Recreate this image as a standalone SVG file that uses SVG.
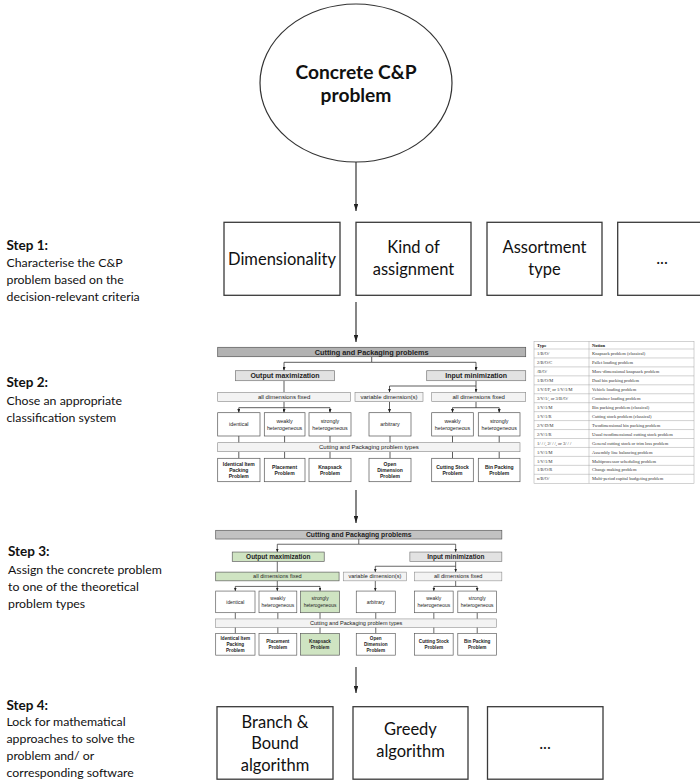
<svg xmlns="http://www.w3.org/2000/svg" width="700" height="781" viewBox="0 0 700 781">
  <style>
    .lbl { font-family: Lato, "Liberation Sans", sans-serif; fill: #111; }
    .big { font-size: 16.5px; text-anchor: middle; }
    .stepT { font-size: 13.5px; font-weight: bold; }
    .stepD { font-size: 12.3px; }
    .bx { fill: #fff; stroke: #3a3a3a; stroke-width: 1.3; }
    .ln { fill: none; stroke: #222; stroke-width: 1.1; }
    .sl { fill: none; stroke: #333; stroke-width: 0.8; }
    .sa { font-family: "Liberation Sans", Arial, sans-serif; text-anchor: middle; fill: #222; }
    .hdr { font-size: 7.3px; font-weight: bold; }
    .grp { font-size: 7px; font-weight: bold; }
    .dim { font-size: 6px; }
    .cat { font-size: 5.3px; }
    .typ { font-size: 5px; font-weight: bold; }
    .sbox { fill: #fff; stroke: #555; stroke-width: 0.7; }
    .top { fill: #b2b2b2; stroke: #555; stroke-width: 0.7; }
    .top2 { fill: #c2c2c2; stroke: #555; stroke-width: 0.7; }
    .mid { fill: #e2e2e2; stroke: #777; stroke-width: 0.7; }
    .pale { fill: #f3f3f3; stroke: #888; stroke-width: 0.6; }
    .hl { fill: #cfe4c2; stroke: #555; stroke-width: 0.7; }
    .tb { font-family: "Liberation Serif", "Times New Roman", serif; font-size: 4.5px; fill: #333; }
    .tbh { font-weight: bold; fill: #111; }
    .grid { stroke: #a5a5a5; stroke-width: 0.5; fill: none; }
  </style>
  <defs>
    <marker id="ah" viewBox="0 0 7 4.4" refX="7" refY="2.2" markerWidth="7" markerHeight="4.4" markerUnits="userSpaceOnUse" orient="auto">
      <path d="M0,0 L7,2.2 L0,4.4 z" fill="#222"/>
    </marker>
    <marker id="sm" viewBox="0 0 3.6 3" refX="3.6" refY="1.5" markerWidth="3.6" markerHeight="3" markerUnits="userSpaceOnUse" orient="auto">
      <path d="M0,0 L3.6,1.5 L0,3 z" fill="#222"/>
    </marker>
  </defs>

  <!-- main flow connectors -->
  <g id="connectors">
    <path class="ln" d="M356,162 V211" marker-end="url(#ah)"/>
    <path class="ln" d="M356,302 V342" marker-end="url(#ah)"/>
    <path class="ln" d="M356,490 V523" marker-end="url(#ah)"/>
    <path class="ln" d="M356,667 V693" marker-end="url(#ah)"/>
  </g>

  <!-- start node -->
  <g id="problem">
    <ellipse cx="356" cy="83" rx="96" ry="79" fill="#fff" stroke="#333" stroke-width="1.2"/>
    <text class="lbl" x="356" y="79" font-size="19.2" font-weight="bold" text-anchor="middle">Concrete C&amp;P</text>
    <text class="lbl" x="356" y="102" font-size="19.2" font-weight="bold" text-anchor="middle">problem</text>
  </g>

  <!-- step descriptions -->
  <g id="step1-label" class="lbl">
    <text class="stepT" x="6.5" y="250">Step 1:</text>
    <text class="stepD" x="6.5" y="267">Characterise the C&amp;P</text>
    <text class="stepD" x="6.5" y="284">problem based on the</text>
    <text class="stepD" x="6.5" y="301">decision-relevant criteria</text>
  </g>
  <g id="step2-label" class="lbl">
    <text class="stepT" x="6.5" y="386.5">Step 2:</text>
    <text class="stepD" x="6.5" y="404.5">Chose an appropriate</text>
    <text class="stepD" x="6.5" y="421.5">classification system</text>
  </g>
  <g id="step3-label" class="lbl">
    <text class="stepT" x="8" y="556">Step 3:</text>
    <text class="stepD" x="8" y="574">Assign the concrete problem</text>
    <text class="stepD" x="8" y="591">to one of the theoretical</text>
    <text class="stepD" x="8" y="608">problem types</text>
  </g>
  <g id="step4-label" class="lbl">
    <text class="stepT" x="6.5" y="709.5">Step 4:</text>
    <text class="stepD" x="6.5" y="726">Lock for mathematical</text>
    <text class="stepD" x="6.5" y="743">approaches to solve the</text>
    <text class="stepD" x="6.5" y="760">problem and/ or</text>
    <text class="stepD" x="6.5" y="776.5">corresponding software</text>
  </g>

  <!-- step 1 criteria -->
  <g id="dimensionality">
    <rect class="bx" x="224" y="222.3" width="116" height="73"/>
    <text class="lbl big" x="282" y="264.5">Dimensionality</text>
  </g>
  <g id="kind-of-assignment">
    <rect class="bx" x="356" y="222.3" width="115" height="73"/>
    <text class="lbl big" x="413.5" y="252.5">Kind of</text>
    <text class="lbl big" x="413.5" y="274.5">assignment</text>
  </g>
  <g id="assortment-type">
    <rect class="bx" x="487" y="222.3" width="115" height="73"/>
    <text class="lbl big" x="544.5" y="252.5">Assortment</text>
    <text class="lbl big" x="544.5" y="274.5">type</text>
  </g>
  <g id="more-criteria">
    <rect class="bx" x="617.7" y="222.3" width="116" height="73"/>
    <text class="lbl big" x="662" y="264">...</text>
  </g>

  <!-- step 2 classification system -->
  <g id="classification">
    <g id="c2-links">
      <path class="sl" d="M371.7,356.7 V362.3 H284 V370.7" marker-end="url(#sm)"/>
      <path class="sl" d="M371.7,362.3 H476 V370.7" marker-end="url(#sm)"/>
      <path class="sl" d="M284,380.7 V392.3"/>
      <path class="sl" d="M476,380.7 V392.3" marker-end="url(#sm)"/>
      <path class="sl" d="M476,386 H389.5 V392.3" marker-end="url(#sm)"/>
      <path class="sl" d="M284,401.7 V412.7" marker-end="url(#sm)"/>
      <path class="sl" d="M284,407.7 H238.8 V412.7" marker-end="url(#sm)"/>
      <path class="sl" d="M284,407.7 H330 V412.7" marker-end="url(#sm)"/>
      <path class="sl" d="M389.5,401.7 V412.7" marker-end="url(#sm)"/>
      <path class="sl" d="M476,401.7 V407.7 H452.5 V412.7" marker-end="url(#sm)"/>
      <path class="sl" d="M476,407.7 H499.2 V412.7" marker-end="url(#sm)"/>
      <path class="sl" d="M238.8,436 V442.7 M284.6,436 V442.7 M330,436 V442.7 M390,436 V442.7 M452.5,436 V442.7 M499.2,436 V442.7"/>
      <path class="sl" d="M238.8,451.7 V458.3 M284.6,451.7 V458.3 M330,451.7 V458.3 M390,451.7 V458.3 M452.5,451.7 V458.3 M499.2,451.7 V458.3"/>
    </g>
    <g id="c2-root"><rect class="top" x="217.7" y="347.3" width="308" height="9.4"/><text class="sa hdr" x="371.7" y="354.6">Cutting and Packaging problems</text></g>
    <g id="c2-output"><rect class="mid" x="235.5" y="370.7" width="99" height="10"/><text class="sa grp" x="285" y="378.2">Output maximization</text></g>
    <g id="c2-input"><rect class="mid" x="426.7" y="370.7" width="99" height="10"/><text class="sa grp" x="476.2" y="378.2">Input minimization</text></g>
    <g id="c2-fixed-a"><rect class="pale" x="217.7" y="392.3" width="132.8" height="9.4"/><text class="sa dim" x="284.1" y="399.1">all dimensions fixed</text></g>
    <g id="c2-variable"><rect class="pale" x="355" y="392.3" width="68" height="9.4"/><text class="sa dim" x="389" y="399.1">variable dimension(s)</text></g>
    <g id="c2-fixed-b"><rect class="pale" x="431.7" y="392.3" width="94" height="9.4"/><text class="sa dim" x="478.7" y="399.1">all dimensions fixed</text></g>
    <g id="c2-identical"><rect class="sbox" x="217.7" y="412.7" width="42.3" height="23.3"/><text class="sa cat" x="238.8" y="426.2">identical</text></g>
    <g id="c2-weak-a"><rect class="sbox" x="264.3" y="412.7" width="40.7" height="23.3"/><text class="sa cat" x="284.6" y="422.7">weakly</text><text class="sa cat" x="284.6" y="429.7">heterogeneous</text></g>
    <g id="c2-strong-a"><rect class="sbox" x="309" y="412.7" width="42" height="23.3"/><text class="sa cat" x="330" y="422.7">strongly</text><text class="sa cat" x="330" y="429.7">heterogeneous</text></g>
    <g id="c2-arbitrary"><rect class="sbox" x="369" y="412.7" width="42" height="23.3"/><text class="sa cat" x="390" y="426.2">arbitrary</text></g>
    <g id="c2-weak-b"><rect class="sbox" x="431.7" y="412.7" width="41.6" height="23.3"/><text class="sa cat" x="452.5" y="422.7">weakly</text><text class="sa cat" x="452.5" y="429.7">heterogeneous</text></g>
    <g id="c2-strong-b"><rect class="sbox" x="478.3" y="412.7" width="41.7" height="23.3"/><text class="sa cat" x="499.2" y="422.7">strongly</text><text class="sa cat" x="499.2" y="429.7">heterogeneous</text></g>
    <g id="c2-types"><rect class="pale" x="217.7" y="442.7" width="302.3" height="9"/><text class="sa dim" x="368.9" y="449.3">Cutting and Packaging problem types</text></g>
    <g id="c2-iipp"><rect class="sbox" x="217.7" y="458.3" width="42.3" height="23.4"/><text class="sa typ" x="238.8" y="465.5">Identical Item</text><text class="sa typ" x="238.8" y="471.7">Packing</text><text class="sa typ" x="238.8" y="477.9">Problem</text></g>
    <g id="c2-placement"><rect class="sbox" x="264.3" y="458.3" width="40.7" height="23.4"/><text class="sa typ" x="284.6" y="468.6">Placement</text><text class="sa typ" x="284.6" y="474.8">Problem</text></g>
    <g id="c2-knapsack"><rect class="sbox" x="309" y="458.3" width="42" height="23.4"/><text class="sa typ" x="330" y="468.6">Knapsack</text><text class="sa typ" x="330" y="474.8">Problem</text></g>
    <g id="c2-odp"><rect class="sbox" x="369" y="458.3" width="42" height="23.4"/><text class="sa typ" x="390" y="465.5">Open</text><text class="sa typ" x="390" y="471.7">Dimension</text><text class="sa typ" x="390" y="477.9">Problem</text></g>
    <g id="c2-csp"><rect class="sbox" x="431.7" y="458.3" width="41.6" height="23.4"/><text class="sa typ" x="452.5" y="468.6">Cutting Stock</text><text class="sa typ" x="452.5" y="474.8">Problem</text></g>
    <g id="c2-bpp"><rect class="sbox" x="478.3" y="458.3" width="41.7" height="23.4"/><text class="sa typ" x="499.2" y="468.6">Bin Packing</text><text class="sa typ" x="499.2" y="474.8">Problem</text></g>
  </g>

  <!-- problem type notation table -->
  <g id="notation-table">
    <rect class="grid" x="534" y="341.3" width="160" height="142" stroke="#8a8a8a"/>
    <path class="grid" d="M589,341.3 V483.3
      M534,349 H694 M534,357.95 H694 M534,366.9 H694 M534,375.85 H694 M534,384.8 H694
      M534,393.75 H694 M534,402.7 H694 M534,411.65 H694 M534,420.6 H694 M534,429.55 H694
      M534,438.5 H694 M534,447.45 H694 M534,456.4 H694 M534,465.35 H694 M534,474.3 H694"/>
    <g class="tb">
      <text class="tbh" x="537" y="346.8">Type</text><text class="tbh" x="592" y="346.8">Notion</text>
      <text x="537" y="355.1">1/B/O/</text><text x="592" y="355.1">Knapsack problem (classical)</text>
      <text x="537" y="364.0">2/B/O/C</text><text x="592" y="364.0">Pallet loading problem</text>
      <text x="537" y="373.0">/B/O/</text><text x="592" y="373.0">More-dimensional knapsack problem</text>
      <text x="537" y="381.9">1/B/O/M</text><text x="592" y="381.9">Dual bin packing problem</text>
      <text x="537" y="390.9">1/V/I/F, or 1/V/1/M</text><text x="592" y="390.9">Vehicle loading problem</text>
      <text x="537" y="399.8">3/V/1/, or 3/B/O/</text><text x="592" y="399.8">Container loading problem</text>
      <text x="537" y="408.8">1/V/1/M</text><text x="592" y="408.8">Bin packing problem (classical)</text>
      <text x="537" y="417.7">1/V/1/R</text><text x="592" y="417.7">Cutting stock problem (classical)</text>
      <text x="537" y="426.7">2/V/D/M</text><text x="592" y="426.7">Twodimensional bin packing problem</text>
      <text x="537" y="435.6">2/V/1/R</text><text x="592" y="435.6">Usual twodimensional cutting stock problem</text>
      <text x="537" y="444.6">1/ / /, 2/ / /, or 3/ / /</text><text x="592" y="444.6">General cutting stock or trim loss problem</text>
      <text x="537" y="453.5">1/V/1/M</text><text x="592" y="453.5">Assembly line balancing problem</text>
      <text x="537" y="462.5">1/V/1/M</text><text x="592" y="462.5">Multiprocessor scheduling problem</text>
      <text x="537" y="471.4">1/B/O/R</text><text x="592" y="471.4">Change making problem</text>
      <text x="537" y="480.4">n/B/O/</text><text x="592" y="480.4">Multi-period capital budgeting problem</text>
    </g>
  </g>

  <!-- step 3 classification with the chosen path marked -->
  <g id="assignment" transform="translate(13.46,207.66) scale(0.929)">
    <g id="c3-links">
      <path class="sl" d="M371.7,356.7 V362.3 H284 V370.7" marker-end="url(#sm)"/>
      <path class="sl" d="M371.7,362.3 H476 V370.7" marker-end="url(#sm)"/>
      <path class="sl" d="M284,380.7 V392.3"/>
      <path class="sl" d="M476,380.7 V392.3" marker-end="url(#sm)"/>
      <path class="sl" d="M476,386 H389.5 V392.3" marker-end="url(#sm)"/>
      <path class="sl" d="M284,401.7 V412.7" marker-end="url(#sm)"/>
      <path class="sl" d="M284,407.7 H238.8 V412.7" marker-end="url(#sm)"/>
      <path class="sl" d="M284,407.7 H330 V412.7" marker-end="url(#sm)"/>
      <path class="sl" d="M389.5,401.7 V412.7" marker-end="url(#sm)"/>
      <path class="sl" d="M476,401.7 V407.7 H452.5 V412.7" marker-end="url(#sm)"/>
      <path class="sl" d="M476,407.7 H499.2 V412.7" marker-end="url(#sm)"/>
      <path class="sl" d="M238.8,436 V442.7 M284.6,436 V442.7 M330,436 V442.7 M390,436 V442.7 M452.5,436 V442.7 M499.2,436 V442.7"/>
      <path class="sl" d="M238.8,451.7 V458.3 M284.6,451.7 V458.3 M330,451.7 V458.3 M390,451.7 V458.3 M452.5,451.7 V458.3 M499.2,451.7 V458.3"/>
    </g>
    <g id="c3-root"><rect class="top2" x="217.7" y="347.3" width="308" height="9.4"/><text class="sa hdr" x="371.7" y="354.6">Cutting and Packaging problems</text></g>
    <g id="c3-output"><rect class="hl" x="235.5" y="370.7" width="99" height="10"/><text class="sa grp" x="285" y="378.2">Output maximization</text></g>
    <g id="c3-input"><rect class="mid" x="426.7" y="370.7" width="99" height="10"/><text class="sa grp" x="476.2" y="378.2">Input minimization</text></g>
    <g id="c3-fixed-a"><rect class="hl" x="217.7" y="392.3" width="132.8" height="9.4"/><text class="sa dim" x="284.1" y="399.1">all dimensions fixed</text></g>
    <g id="c3-variable"><rect class="pale" x="355" y="392.3" width="68" height="9.4"/><text class="sa dim" x="389" y="399.1">variable dimension(s)</text></g>
    <g id="c3-fixed-b"><rect class="pale" x="431.7" y="392.3" width="94" height="9.4"/><text class="sa dim" x="478.7" y="399.1">all dimensions fixed</text></g>
    <g id="c3-identical"><rect class="sbox" x="217.7" y="412.7" width="42.3" height="23.3"/><text class="sa cat" x="238.8" y="426.2">identical</text></g>
    <g id="c3-weak-a"><rect class="sbox" x="264.3" y="412.7" width="40.7" height="23.3"/><text class="sa cat" x="284.6" y="422.7">weakly</text><text class="sa cat" x="284.6" y="429.7">heterogeneous</text></g>
    <g id="c3-strong-a"><rect class="hl" x="309" y="412.7" width="42" height="23.3"/><text class="sa cat" x="330" y="422.7">strongly</text><text class="sa cat" x="330" y="429.7">heterogeneous</text></g>
    <g id="c3-arbitrary"><rect class="sbox" x="369" y="412.7" width="42" height="23.3"/><text class="sa cat" x="390" y="426.2">arbitrary</text></g>
    <g id="c3-weak-b"><rect class="sbox" x="431.7" y="412.7" width="41.6" height="23.3"/><text class="sa cat" x="452.5" y="422.7">weakly</text><text class="sa cat" x="452.5" y="429.7">heterogeneous</text></g>
    <g id="c3-strong-b"><rect class="sbox" x="478.3" y="412.7" width="41.7" height="23.3"/><text class="sa cat" x="499.2" y="422.7">strongly</text><text class="sa cat" x="499.2" y="429.7">heterogeneous</text></g>
    <g id="c3-types"><rect class="pale" x="217.7" y="442.7" width="302.3" height="9"/><text class="sa dim" x="368.9" y="449.3">Cutting and Packaging problem types</text></g>
    <g id="c3-iipp"><rect class="sbox" x="217.7" y="458.3" width="42.3" height="23.4"/><text class="sa typ" x="238.8" y="465.5">Identical Item</text><text class="sa typ" x="238.8" y="471.7">Packing</text><text class="sa typ" x="238.8" y="477.9">Problem</text></g>
    <g id="c3-placement"><rect class="sbox" x="264.3" y="458.3" width="40.7" height="23.4"/><text class="sa typ" x="284.6" y="468.6">Placement</text><text class="sa typ" x="284.6" y="474.8">Problem</text></g>
    <g id="c3-knapsack"><rect class="hl" x="309" y="458.3" width="42" height="23.4"/><text class="sa typ" x="330" y="468.6">Knapsack</text><text class="sa typ" x="330" y="474.8">Problem</text></g>
    <g id="c3-odp"><rect class="sbox" x="369" y="458.3" width="42" height="23.4"/><text class="sa typ" x="390" y="465.5">Open</text><text class="sa typ" x="390" y="471.7">Dimension</text><text class="sa typ" x="390" y="477.9">Problem</text></g>
    <g id="c3-csp"><rect class="sbox" x="431.7" y="458.3" width="41.6" height="23.4"/><text class="sa typ" x="452.5" y="468.6">Cutting Stock</text><text class="sa typ" x="452.5" y="474.8">Problem</text></g>
    <g id="c3-bpp"><rect class="sbox" x="478.3" y="458.3" width="41.7" height="23.4"/><text class="sa typ" x="499.2" y="468.6">Bin Packing</text><text class="sa typ" x="499.2" y="474.8">Problem</text></g>
  </g>

  <!-- step 4 solution approaches -->
  <g id="branch-and-bound">
    <rect class="bx" x="217" y="706.7" width="116" height="72.5"/>
    <text class="lbl big" x="275" y="727.5">Branch &amp;</text>
    <text class="lbl big" x="275" y="749">Bound</text>
    <text class="lbl big" x="275" y="771">algorithm</text>
  </g>
  <g id="greedy">
    <rect class="bx" x="353" y="706.7" width="115" height="72.5"/>
    <text class="lbl big" x="410.5" y="735">Greedy</text>
    <text class="lbl big" x="410.5" y="757">algorithm</text>
  </g>
  <g id="more-approaches">
    <rect class="bx" x="487.5" y="706.7" width="115.5" height="72.5"/>
    <text class="lbl big" x="545" y="749">...</text>
  </g>
</svg>
